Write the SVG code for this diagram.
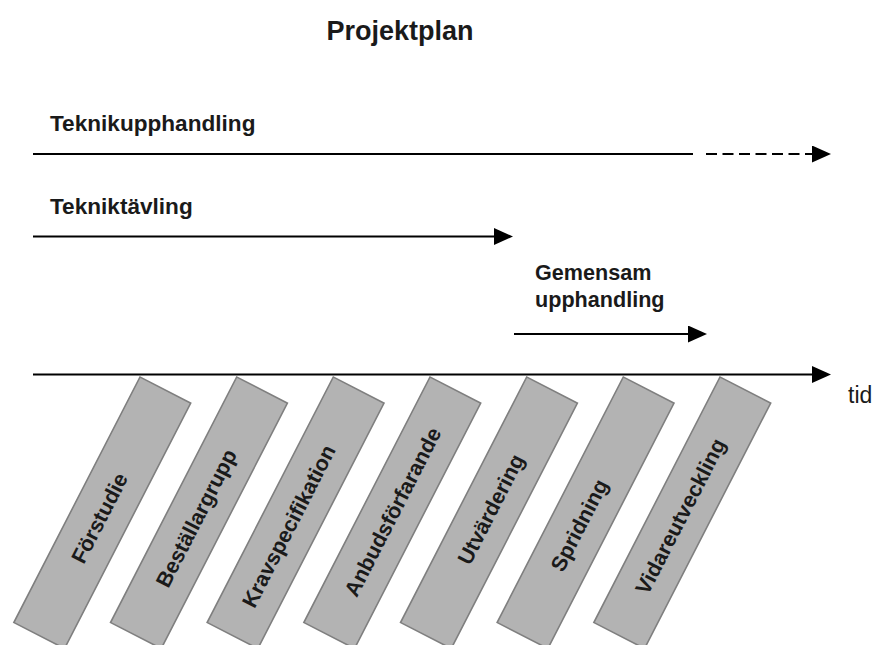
<svg xmlns="http://www.w3.org/2000/svg" width="878" height="645" viewBox="0 0 878 645">
  <style>
    .lbl { font-family: "Liberation Sans", Arial, sans-serif; font-weight: bold; font-size: 22.6px; fill: #1a1a1a; }
    .lbl2 { font-family: "Liberation Sans", Arial, sans-serif; font-weight: bold; font-size: 21.6px; fill: #1a1a1a; }
    .title { font-family: "Liberation Sans", Arial, sans-serif; font-weight: bold; font-size: 27px; fill: #1a1a1a; }
    .tid { font-family: "Liberation Sans", Arial, sans-serif; font-size: 23px; fill: #1a1a1a; }
    .phase rect { fill: #b3b3b3; stroke: #7f7f7f; stroke-width: 1.6; }
    .phase text { font-family: "Liberation Sans", Arial, sans-serif; font-weight: bold; font-size: 21.5px; fill: #1a1a1a; text-anchor: middle; }
    .conn { stroke: #000; stroke-width: 2; fill: none; }
    .dash { stroke-dasharray: 11 5.5; }
  </style>
  <defs>
    <marker id="ah" viewBox="0 0 19 17" refX="2" refY="8.5" markerWidth="19" markerHeight="17" markerUnits="userSpaceOnUse" orient="auto">
      <path d="M0,0 L19,8.5 L0,17 Z" fill="#000"/>
    </marker>
  </defs>

  <text class="title" x="400" y="40" text-anchor="middle">Projektplan</text>

  <g id="labels">
    <text class="lbl" x="50" y="131">Teknikupphandling</text>
    <text class="lbl" x="50" y="214">Tekniktävling</text>
    <text class="lbl2" x="535" y="280">Gemensam</text>
    <text class="lbl2" x="535" y="307">upphandling</text>
    <text class="tid" x="848" y="403">tid</text>
  </g>

  <g id="connectors">
    <path class="conn" d="M33,154 H693"/>
    <path class="conn dash" d="M706,154 H814" marker-end="url(#ah)"/>
    <path class="conn" d="M33,236.5 H496" marker-end="url(#ah)"/>
    <path class="conn" d="M514,334 H690" marker-end="url(#ah)"/>
    <path class="conn" d="M33,374.5 H814" marker-end="url(#ah)"/>
  </g>

  <g id="forstudie" class="phase" transform="translate(140,377) rotate(27.2)">
    <rect x="0" y="0" width="57" height="276"/>
    <text transform="translate(36,144) rotate(-90)">Förstudie</text>
  </g>
  <g id="bestallargrupp" class="phase" transform="translate(236.7,377) rotate(27.2)">
    <rect x="0" y="0" width="57" height="276"/>
    <text transform="translate(36,144) rotate(-90)">Beställargrupp</text>
  </g>
  <g id="kravspecifikation" class="phase" transform="translate(333.3,377) rotate(27.2)">
    <rect x="0" y="0" width="57" height="276"/>
    <text transform="translate(36,153) rotate(-90)">Kravspecifikation</text>
  </g>
  <g id="anbudsforfarande" class="phase" transform="translate(430,377) rotate(27.2)">
    <rect x="0" y="0" width="57" height="276"/>
    <text transform="translate(36,137) rotate(-90)">Anbudsförfarande</text>
  </g>
  <g id="utvardering" class="phase" transform="translate(526.7,377) rotate(27.2)">
    <rect x="0" y="0" width="57" height="276"/>
    <text transform="translate(36,134) rotate(-90)">Utvärdering</text>
  </g>
  <g id="spridning" class="phase" transform="translate(623.3,377) rotate(27.2)">
    <rect x="0" y="0" width="57" height="276"/>
    <text transform="translate(36,152) rotate(-90)">Spridning</text>
  </g>
  <g id="vidareutveckling" class="phase" transform="translate(720,377) rotate(27.2)">
    <rect x="0" y="0" width="57" height="276"/>
    <text transform="translate(36,142) rotate(-90)">Vidareutveckling</text>
  </g>
</svg>
